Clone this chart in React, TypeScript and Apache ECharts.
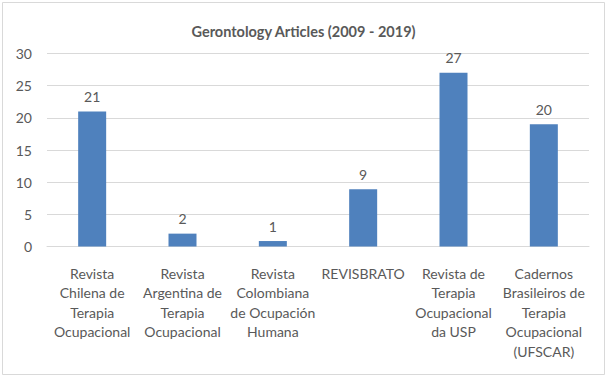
import React, { useEffect, useRef } from "react";
import * as echarts from "echarts";

const categories = [
  "Revista\nChilena de\nTerapia\nOcupacional",
  "Revista\nArgentina de\nTerapia\nOcupacional",
  "Revista\nColombiana\nde Ocupación\nHumana",
  "REVISBRATO",
  "Revista de\nTerapia\nOcupacional\nda USP",
  "Cadernos\nBrasileiros de\nTerapia\nOcupacional\n(UFSCAR)",
];
const barValues = [21, 2, 0.85, 8.9, 27, 19];
const labelValues = [21, 2, 1, 9, 27, 20];
const yTicks = { min: 0, max: 30, interval: 5 };

const FONT = "Lato";
const TEXT = "#595959";

export default function App() {
  const ref = useRef<HTMLDivElement>(null);
  useEffect(() => {
    if (!ref.current) return;
    const chart = echarts.init(ref.current, undefined, { renderer: "svg" });
    chart.setOption({
      animation: false,
      backgroundColor: "#ffffff",
      title: {
        text: "Gerontology Articles (2009 - 2019)",
        left: "center",
        top: 19,
        textStyle: { fontFamily: FONT, fontSize: 14.5, fontWeight: "bold", color: TEXT },
      },
      graphic: [
        {
          type: "rect",
          shape: { x: 2.5, y: 2.5, width: 602, height: 372 },
          style: { fill: "none", stroke: "#d9d9d9", lineWidth: 1 },
          silent: true,
        },
      ],
      grid: { left: 47, right: 18, top: 53.5, bottom: 130.5, containLabel: false },
      xAxis: {
        type: "category",
        data: categories,
        axisLine: { show: true, lineStyle: { color: "#d9d9d9" } },
        axisTick: { show: false },
        axisLabel: {
          interval: 0,
          fontFamily: FONT,
          fontSize: 14,
          color: TEXT,
          lineHeight: 19.5,
          margin: 17,
          align: "center",
        },
      },
      yAxis: {
        type: "value",
        min: yTicks.min,
        max: yTicks.max,
        interval: yTicks.interval,
        axisLine: { show: false },
        axisTick: { show: false },
        splitLine: { lineStyle: { color: "#d9d9d9", width: 1 } },
        axisLabel: { fontFamily: FONT, fontSize: 14, color: TEXT, margin: 15 },
      },
      series: [
        {
          type: "bar",
          data: barValues,
          barWidth: 28,
          itemStyle: { color: "#4f81bd" },
          label: {
            show: true,
            position: "top",
            distance: 8,
            fontFamily: FONT,
            fontSize: 14,
            color: TEXT,
            formatter: (p: any) => String(labelValues[p.dataIndex]),
          },
        },
      ],
    });
    return () => chart.dispose();
  }, []);
  return (
    <div
      ref={ref}
      style={{ position: "fixed", left: 0, top: 0, width: 607, height: 377 }}
    />
  );
}
